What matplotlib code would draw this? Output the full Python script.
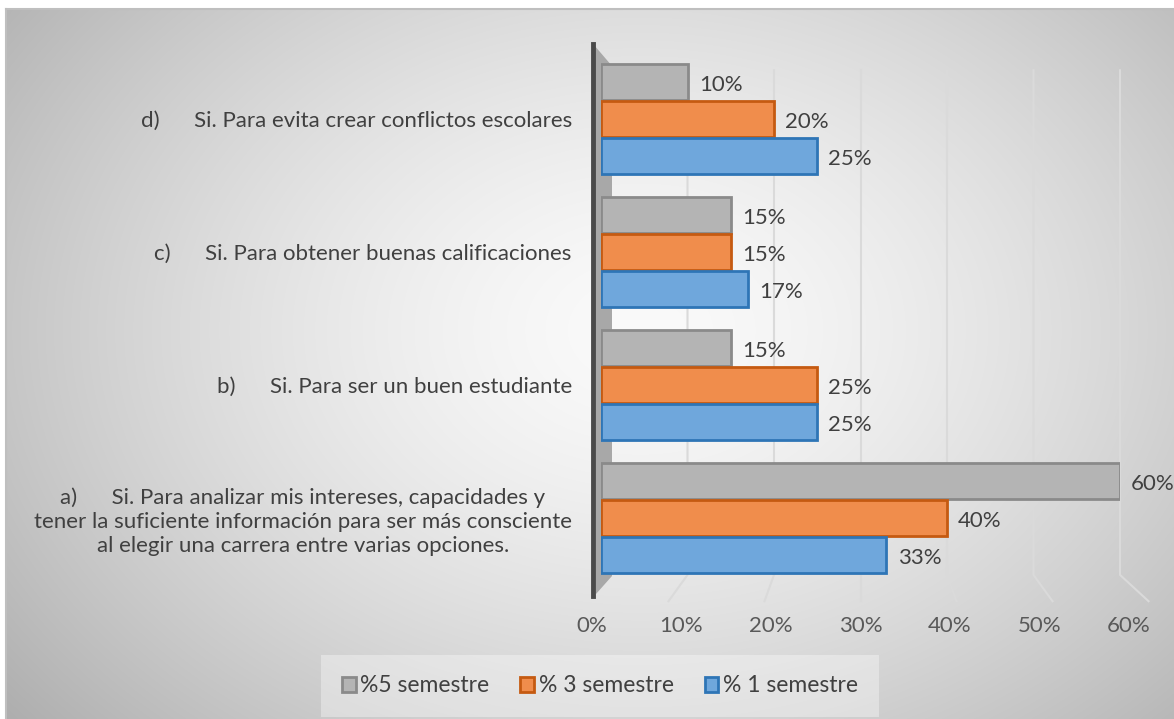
import numpy as np
import matplotlib
matplotlib.use("Agg")
import matplotlib.pyplot as plt
from matplotlib.patches import Polygon

plt.rcParams['font.family'] = ['Lato', 'DejaVu Sans']

# data
categories = [
    "a)      Si. Para analizar mis intereses, capacidades y\n"
    "tener la suficiente información para ser más consciente\n"
    "al elegir una carrera entre varias opciones.",
    "b)      Si. Para ser un buen estudiante",
    "c)      Si. Para obtener buenas calificaciones",
    "d)      Si. Para evita crear conflictos escolares",
]
series_names = ["%5 semestre", "% 3 semestre", "% 1 semestre"]
sem5 = [0.60, 0.15, 0.15, 0.10]
sem3 = [0.40, 0.25, 0.15, 0.20]
sem1 = [0.33, 0.25, 0.17, 0.25]
xticks = [0, 0.1, 0.2, 0.3, 0.4, 0.5, 0.6]

face = ["#b4b4b4", "#f08d4c", "#6fa7dc"]
edge = ["#8a8a8a", "#c55a11", "#2e75b6"]
txt = "#404040"

W, H = 1174, 719
fig = plt.figure(figsize=(W / 100, H / 100), dpi=100)

# background with radial gradient
bg = fig.add_axes([0, 0, 1, 1], zorder=-10)
bg.set_axis_off()
yy, xx = np.mgrid[0:H, 0:W]
d = np.sqrt(((xx - 640) / 700.0) ** 2 + ((yy - 330) / 520.0) ** 2)
shade = 250 - 60 * np.clip(d, 0, 1.2) ** 1.5
img = np.dstack([shade, shade, shade]) / 255.0
img[:9, :, :] = 1.0
img[:, :6, :] = 1.0
bg.imshow(img, extent=(0, W, H, 0), aspect='auto')
bg.set_xlim(0, W)
bg.set_ylim(H, 0)
bg.plot([6, W], [9, 9], color="#bfbfbf", lw=1.5)
bg.plot([6, 6], [9, H], color="#bfbfbf", lw=1.5)

# side wall (drawn on the background, below the bars)
bg.add_patch(Polygon([(594, 45), (612, 66), (612, 576), (596, 594)], closed=True,
                     facecolor="#a8a8a8", edgecolor="none", zorder=2))
bg.plot([593, 593], [44, 596], color="#4a4a4a", lw=3.5, zorder=3)

# main axes
left, right, top, bottom = 601, 1120, 62, 578
ax = fig.add_axes([left / W, 1 - bottom / H, (right - left) / W, (bottom - top) / H])
ax.set_facecolor("none")

# gridlines with a bit of floor perspective
trans = ax.get_xaxis_transform()
for v in xticks[1:]:
    front = 0.3 + (v - 0.3) * 1.11
    ax.plot([v, v, front], [0.984, 0.006, -0.045], transform=trans,
            color="#dadada", lw=1.5, zorder=1, clip_on=False)

y = np.arange(len(categories))
h = 0.27
off = [0.28, 0.0, -0.28]
for i, vals in enumerate([sem5, sem3, sem1]):
    ax.barh(y + off[i], vals, height=h, color=face[i], edgecolor=edge[i],
            linewidth=2, zorder=3, label=series_names[i])
    for yi, v in zip(y + off[i], vals):
        ax.text(v + 0.013, yi - 0.02, f"{v:.0%}", ha="left", va="center",
                fontsize=16, color=txt, zorder=5, clip_on=False)

ax.set_yticks(y)
ax.set_yticklabels(categories, fontsize=16, color=txt, multialignment="center",
                   linespacing=1.25)
ax.set_xticks([])
# x tick labels on the front edge of the floor (slight perspective spread)
for v in xticks:
    ax.text(0.3 + (v - 0.3) * 1.035, -0.093, f"{v:.0%}", transform=trans,
            ha="center", va="center", fontsize=16, color="#595959")
ax.tick_params(axis="y", length=0, pad=21)
ax.set_xlim(0, 0.6)
ax.set_ylim(-0.45, 3.43)
for s in ax.spines.values():
    s.set_visible(False)

leg = fig.legend(loc="center", bbox_to_anchor=(600 / W, 1 - 686 / H), ncol=3,
                 fontsize=16.5, frameon=True, handlelength=0.6, handleheight=0.6,
                 handletextpad=0.2, columnspacing=1.35, labelcolor=txt,
                 borderpad=0.6)
leg.get_frame().set_facecolor("white")
leg.get_frame().set_alpha(0.35)
leg.get_frame().set_edgecolor("none")
leg.get_frame().set_boxstyle("square")

fig.savefig("out.png", dpi=100)
